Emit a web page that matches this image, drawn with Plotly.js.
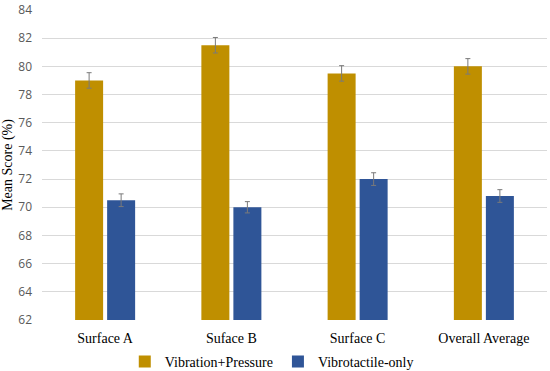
<!DOCTYPE html>
<html>
<head>
<meta charset="utf-8">
<script src="https://cdn.plot.ly/plotly-3.0.1.min.js"></script>
<style>html,body{margin:0;padding:0;background:#fff;}#chart{width:550px;height:371px;}</style>
</head>
<body>
<div id="chart"></div>
<script>
var categories = ["Surface A", "Suface B", "Surface C", "Overall Average"];
var vibPressure = [79.0, 81.5, 79.5, 80.0];
var vibPressureErr = [0.55, 0.55, 0.55, 0.55];
var vibrotactile = [70.5, 70.0, 72.0, 70.8];
var vibrotactileErr = [0.45, 0.4, 0.45, 0.45];
var yTicks = [62, 64, 66, 68, 70, 72, 74, 76, 78, 80, 82, 84];

var errStyle = {type: "data", visible: true, thickness: 1, width: 2.5, color: "#7a7a7a"};

var traces = [
  {type: "bar", name: "Vibration+Pressure", x: categories, y: vibPressure,
   marker: {color: "#BF8F00"},
   error_y: Object.assign({array: vibPressureErr}, errStyle)},
  {type: "bar", name: "Vibrotactile-only", x: categories, y: vibrotactile,
   marker: {color: "#2F5597"},
   error_y: Object.assign({array: vibrotactileErr}, errStyle)}
];

var layout = {
  width: 550, height: 371,
  margin: {l: 42, r: 3, t: 10, b: 51, autoexpand: false},
  paper_bgcolor: "#ffffff", plot_bgcolor: "#ffffff",
  barmode: "group", bargap: 0.493, bargroupgap: 0.125,
  showlegend: true,
  legend: {orientation: "h", x: 0.455, xanchor: "center", y: -0.135, yanchor: "middle",
    font: {family: "Liberation Serif, Times New Roman, serif", size: 14, color: "#000"},
    itemwidth: 30, tracegroupgap: 0},
  xaxis: {type: "category", showgrid: false, zeroline: false, showline: false,
    ticks: "", ticklabelstandoff: 8,
    tickfont: {family: "Liberation Serif, Times New Roman, serif", size: 14, color: "#000"}},
  yaxis: {range: [62, 84], tickvals: yTicks, ticktext: yTicks.map(String),
    showgrid: true, gridcolor: "#d9d9d9", gridwidth: 1, zeroline: false, showline: false,
    ticks: "", ticklabelstandoff: 9,
    tickfont: {family: "Open Sans, Arial, sans-serif", size: 12, color: "#595959"},
    title: {text: "Mean Score (%)", standoff: 6,
      font: {family: "Liberation Serif, Times New Roman, serif", size: 14, color: "#000"}}}
};

Plotly.newPlot("chart", traces, layout, {displayModeBar: false, staticPlot: true});
</script>
</body>
</html>
